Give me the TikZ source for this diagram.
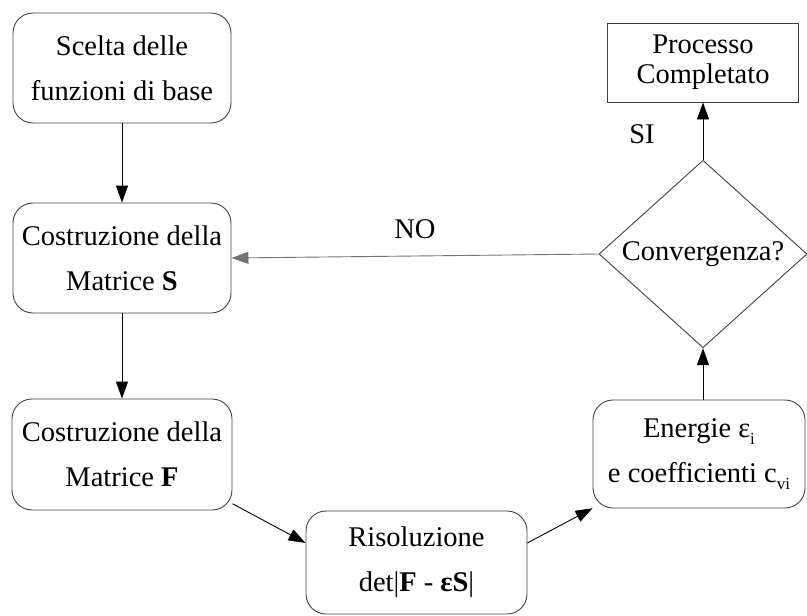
\documentclass[tikz,border=0pt]{standalone}
\usepackage{fontspec}
\setmainfont{Liberation Serif}
\usetikzlibrary{shapes.geometric,arrows.meta}
\tikzset{
  x=1pt,y=-1pt,
  rbox/.style={draw=black!75, line width=0.9pt, rounded corners=20pt, align=center, inner sep=0pt,
    font=\fontsize{28.5}{45}\selectfont},
  sbox/.style={draw=black!75, line width=0.9pt, align=center, inner sep=0pt,
    font=\fontsize{28.5}{30}\selectfont},
  dbox/.style={draw=black!75, line width=0.9pt, diamond, inner sep=0pt,
    font=\fontsize{28.5}{30}\selectfont},
  lbl/.style={font=\fontsize{28.5}{30}\selectfont, inner sep=0pt},
  arr/.style={line width=0.9pt, -{Triangle[length=17pt,width=12pt]}},
}
\newcommand{\lowsub}[1]{\raisebox{-7pt}{\fontsize{17}{17}\selectfont #1}}
\begin{document}
\begin{tikzpicture}
\useasboundingbox (0,0) rectangle (807,616);
\node[rbox, minimum width=218pt, minimum height=110pt] (b1) at (122,68) {Scelta delle\\funzioni di base};
\node[rbox, minimum width=218pt, minimum height=110pt] (b2) at (122,258) {Costruzione della\\Matrice \textbf{S}};
\node[rbox, minimum width=220pt, minimum height=111pt] (b3) at (122,454.5) {Costruzione della\\Matrice \textbf{F}};
\node[rbox, minimum width=221pt, minimum height=103pt] (b4) at (416.5,562.5) {Risoluzione\\det|\textbf{F} - \textbf{εS}|};
\node[rbox, minimum width=212pt, minimum height=108pt] (b5) at (699,454) {Energie ε\lowsub{i}\\e coefficienti c\lowsub{vi}};
\node[dbox, minimum width=208pt, minimum height=177pt] (dia) at (703,254) {Convergenza?};
\node[sbox, minimum width=191pt, minimum height=79pt] (b6) at (703,62.5) {Processo\\Completato};
\node[lbl] (si) at (642,134) {SI};
\node[lbl] (no) at (415,229) {NO};
\draw[arr] (b1.south) -- (b2.north);
\draw[arr] (b2.south) -- (b3.north);
\draw[arr] (b3.-24.6) -- (b4.170);
\draw[arr] (b4.10) -- (b5.207);
\draw[arr] (dia.south |- b5.north) -- (dia.south);
\draw[arr] (dia.north) -- (b6.south);
\draw[arr, draw=black!55] (dia.west) -- (b2.east);
\end{tikzpicture}
\end{document}
